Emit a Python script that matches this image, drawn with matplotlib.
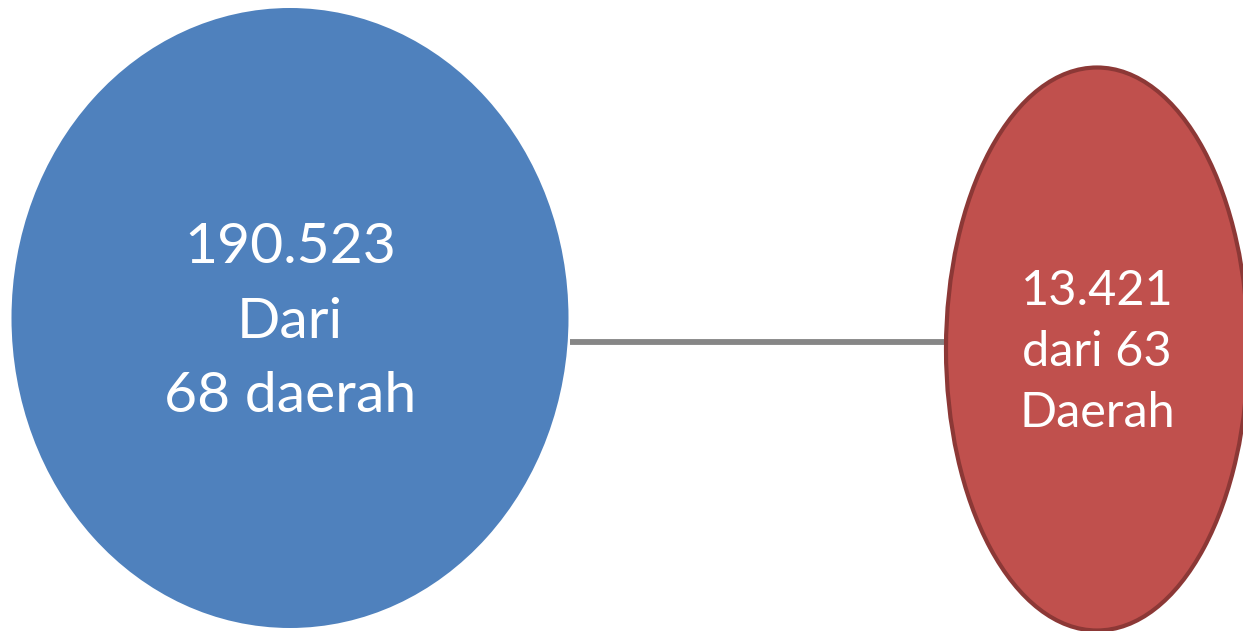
import matplotlib.pyplot as plt
from matplotlib.patches import Ellipse

# two region groups joined by a line
labels = ["190.523\nDari\n68 daerah", "13.421\ndari 63\nDaerah"]
centers_x = [290, 1097]
centers_y = [318, 349]
widths = [557, 302]
heights = [620, 563]
fills = ["#4f81bd", "#c0504d"]
edges = ["#4f81bd", "#8c3836"]
font_sizes = [41, 35]
line_spacing = [1.57, 1.46]
text_offset = [4, 3]

fig = plt.figure(figsize=(12.43, 6.31), dpi=100)
ax = fig.add_axes([0, 0, 1, 1])
ax.set_xlim(0, 1243)
ax.set_ylim(631, 0)
ax.axis('off')

# connector line
ax.plot([570, 946], [342, 342], color='#868686', linewidth=4.2, solid_capstyle='butt', zorder=1)

for i in range(len(labels)):
    e = Ellipse((centers_x[i], centers_y[i]), widths[i], heights[i],
                facecolor=fills[i], edgecolor=edges[i], linewidth=3 if i == 1 else 0, zorder=2)
    ax.add_patch(e)
    ax.text(centers_x[i], centers_y[i] + text_offset[i], labels[i], ha='center', va='center',
            color='white', fontsize=font_sizes[i], family='Lato', linespacing=line_spacing[i], zorder=3)

fig.savefig("out.png", dpi=100)
